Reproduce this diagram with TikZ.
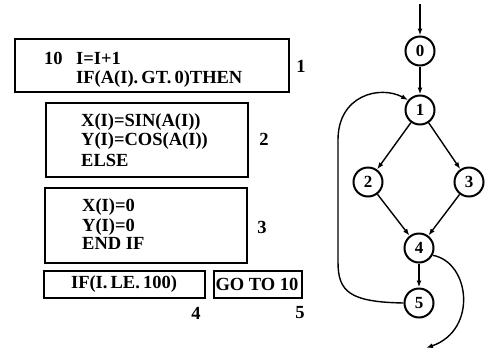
\documentclass[tikz,border=0pt]{standalone}
\usepackage{fontspec}
\setmainfont{Liberation Serif}
\usetikzlibrary{arrows.meta}
\begin{document}
\begin{tikzpicture}[x=1pt,y=-1pt,
  box/.style={draw,line width=2pt,inner sep=0pt,anchor=north west},
  code/.style={anchor=base west,inner sep=0pt,font=\fontsize{18.5}{20}\selectfont\bfseries},
  lab/.style={inner sep=0pt,font=\fontsize{18.5}{20}\selectfont\bfseries},
  vert/.style={circle,draw,line width=2pt,minimum size=29pt,inner sep=0pt,font=\fontsize{17}{19}\selectfont\bfseries},
  edge/.style={line width=1.4pt,-{Latex[length=7pt,width=5pt]}}]
\useasboundingbox (0,0) rectangle (488,349);
% boxes
\node[box,minimum width=274pt,minimum height=53pt] (b1) at (14,38) {};
\node[box,minimum width=202pt,minimum height=74pt] (b2) at (45,102) {};
\node[box,minimum width=202pt,minimum height=75pt] (b3) at (44,187) {};
\node[box,minimum width=161pt,minimum height=27pt] (b4) at (43,270) {};
\node[box,minimum width=88pt,minimum height=27pt] (b5) at (213,270) {};
% code
\node[code] (c1n) at (44,64) {10};
\node[code] (c1a) at (76,64) {I=I+1};
\node[code] (c1b) at (76,83) {IF(A(I).\,GT.\,0)THEN};
\node[code] (c2a) at (81,126) {X(I)=SIN(A(I))};
\node[code] (c2b) at (81,145) {Y(I)=COS(A(I))};
\node[code] (c2c) at (81,166) {ELSE};
\node[code] (c3a) at (82,211) {X(I)=0};
\node[code] (c3b) at (82,231) {Y(I)=0};
\node[code] (c3c) at (82,249) {END IF};
\node[lab] (c4) at (124,284) {IF(I.\,LE.\,100)};
\node[lab] (c5) at (257,284) {GO TO 10};
% labels
\node[lab] (l1) at (301,66) {1};
\node[lab] (l2) at (264,139) {2};
\node[lab] (l3) at (262,227) {3};
\node[lab] (l4) at (196,313) {4};
\node[lab] (l5) at (300,313) {5};
% graph
\node[vert] (n0) at (420,51) {0};
\node[vert] (n1) at (420,110) {1};
\node[vert] (n2) at (368,182) {2};
\node[vert] (n3) at (469,182) {3};
\node[vert] (n4) at (419,248) {4};
\node[vert] (n5) at (419,303) {5};
\coordinate (in) at (420,4);
\coordinate (out) at (426,348);
\draw[edge] (in) -- (n0);
\draw[edge] (n0) -- (n1);
\draw[edge] (n1) -- (n2);
\draw[edge] (n1) -- (n3);
\draw[edge] (n2) -- (n4);
\draw[edge] (n3) -- (n4);
\draw[edge] (n4) -- (n5);
\draw[edge] (n5.west) .. controls (350,302) and (338,292) .. (338,262) -- (338,140) .. controls (338,95) and (380,85) .. (n1.140);
\draw[edge] (n4.-28) .. controls (470,262) and (478,330) .. (out);
\end{tikzpicture}
\end{document}
